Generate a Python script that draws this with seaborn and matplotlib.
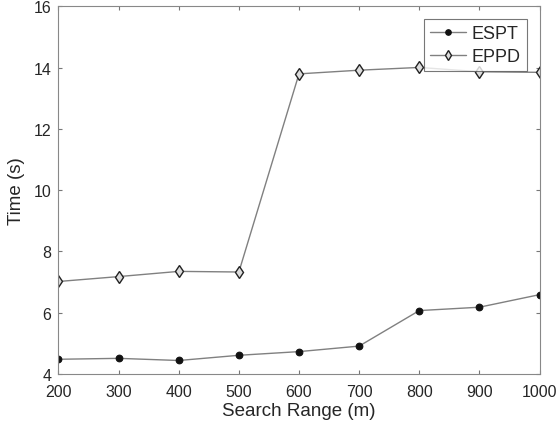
import pandas as pd
import matplotlib
matplotlib.use("Agg")
import matplotlib.pyplot as plt
import seaborn as sns

# search range values (m)
search_range = [200, 300, 400, 500, 600, 700, 800, 900, 1000]
# time values (s)
espt_time = [4.48, 4.51, 4.44, 4.61, 4.73, 4.91, 6.07, 6.18, 6.59]
eppd_time = [7.02, 7.18, 7.35, 7.33, 13.80, 13.92, 14.01, 13.87, 13.85]
y_ticks = [4, 6, 8, 10, 12, 14, 16]

df = pd.DataFrame({
    "Search Range (m)": search_range * 2,
    "Time (s)": espt_time + eppd_time,
    "Method": ["ESPT"] * len(espt_time) + ["EPPD"] * len(eppd_time),
})

sns.set_style("white")
plt.rcParams["font.family"] = ["Liberation Sans", "DejaVu Sans"]

fig = plt.figure(figsize=(5.57, 4.31), dpi=100)
ax = fig.add_axes([0.105, 0.130, 0.8636, 0.8526])

sns.lineplot(data=df, x="Search Range (m)", y="Time (s)", hue="Method",
             style="Method", markers={"ESPT": "o", "EPPD": "d"}, dashes=False,
             palette={"ESPT": "#808080", "EPPD": "#808080"}, linewidth=1.0,
             ax=ax, legend=True)


def style_marker(line, name, small=False):
    if name == "ESPT":
        line.set_markerfacecolor("#111111")
        line.set_markeredgecolor("#111111")
        line.set_markeredgewidth(0.8)
        line.set_markersize(4 if small else 4.8)
    else:
        line.set_markerfacecolor("#dddddd")
        line.set_markeredgecolor("#222222")
        line.set_markeredgewidth(1.0)
        line.set_markersize(5.5 if small else 6.5)


for line, name in zip(ax.lines[:2], ["ESPT", "EPPD"]):
    style_marker(line, name)

ax.set_xlim(200, 1000)
ax.set_ylim(4, 16)
ax.set_xticks(search_range)
ax.set_yticks(y_ticks)
ax.tick_params(direction="in", length=3, color="#777777", labelsize=11.5,
               top=True, right=True, bottom=True, left=True)
ax.tick_params(axis="x", pad=7.5)
ax.tick_params(axis="y", pad=5)
for s in ax.spines.values():
    s.set_color("#888888")
    s.set_linewidth(0.8)
ax.set_xlabel("Search Range (m)", fontsize=13.5, labelpad=2)
ax.set_ylabel("Time (s)", fontsize=13.5, labelpad=6)

leg = ax.legend(loc="upper right", fontsize=13, frameon=True, fancybox=False,
                borderpad=0.35, handlelength=2.0, labelspacing=0.3,
                handletextpad=0.3, borderaxespad=0.7)
leg.get_frame().set_edgecolor("#555555")
leg.get_frame().set_linewidth(0.8)
for h, name in zip(leg.legend_handles, ["ESPT", "EPPD"]):
    style_marker(h, name, small=True)

fig.savefig("out.png", dpi=100)
